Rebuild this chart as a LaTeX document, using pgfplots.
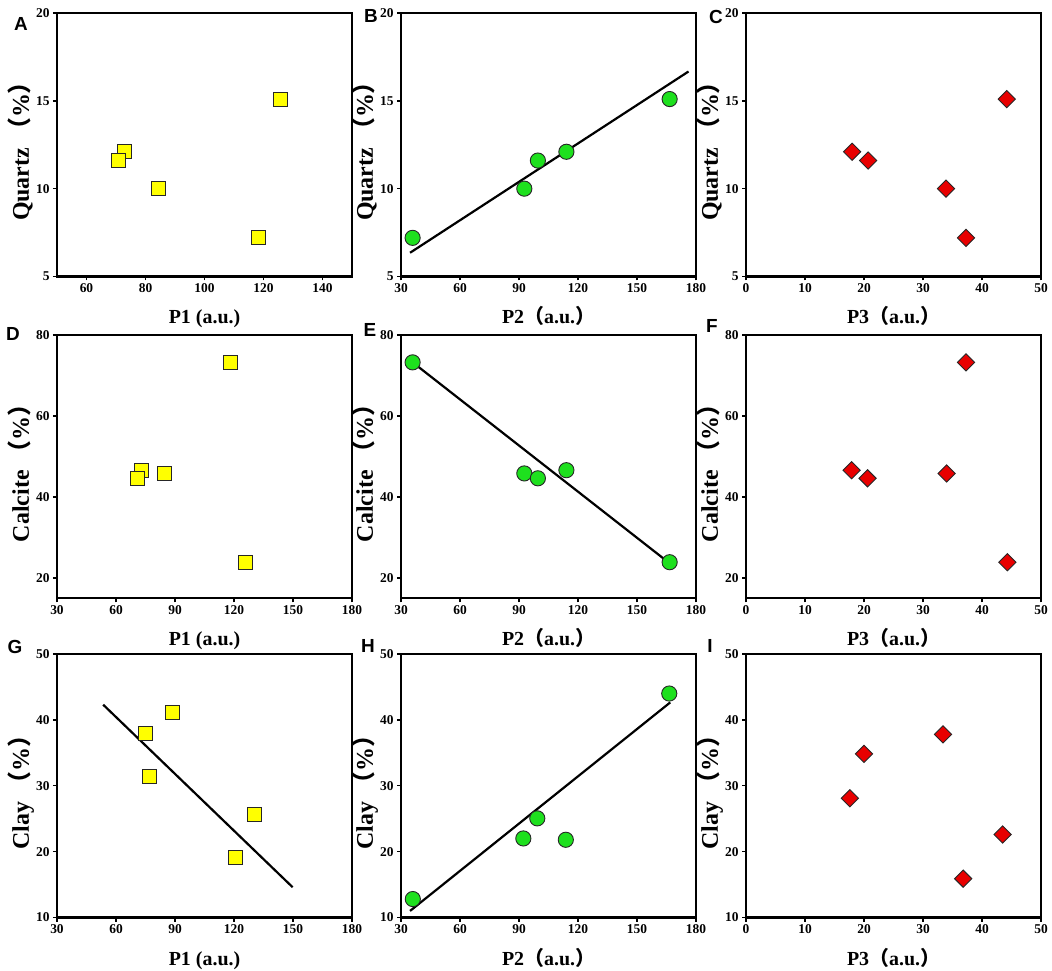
\documentclass[border=0pt]{standalone}
\usepackage{pgfplots}
\pgfplotsset{compat=1.18}
\usepackage{fontspec}
\setmainfont{Liberation Serif}
\newfontfamily\cjk{Noto Sans CJK SC}
\newfontfamily\arialf{Liberation Sans}
\definecolor{myyellow}{HTML}{FFFF00}
\definecolor{mygreen}{HTML}{1EE01E}
\definecolor{myred}{HTML}{E80000}
\pgfplotsset{
  myax/.style={scale only axis, width=295bp, height=263.5bp, anchor=south west,
    axis line style={line width=2.1bp}, every tick/.style={black, line width=1.4bp},
    tick align=outside, major tick length=4bp, xtick pos=bottom, ytick pos=left,
    minor tick num=0,
    extra description/.code={\draw[line width=2.1bp, black] (rel axis cs:0,0) rectangle (rel axis cs:1,1);},
    /pgf/number format/assume math mode=true,
    xticklabel={\pgfmathprintnumber[assume math mode=true]{\tick}},
    yticklabel={\pgfmathprintnumber[assume math mode=true]{\tick}},
    tick label style={font=\bfseries\fontsize{13.5}{13.5}\selectfont},
    xlabel style={at={(axis description cs:0.5,0)}, anchor=base, yshift=-47.5bp,
      font=\bfseries\fontsize{20}{20}\selectfont},
    ylabel style={at={(axis description cs:-0.095,0.497)}, anchor=base,
      font=\bfseries\fontsize{24}{24}\selectfont},
  },
  sq/.style={only marks, mark=square*, mark size=7bp,
    mark options={fill=myyellow, draw=black!85, line width=0.9bp}},
  ci/.style={only marks, mark=*, mark size=7.6bp,
    mark options={fill=mygreen, draw=black!85, line width=0.9bp}},
  di/.style={only marks, mark=square*, mark size=6.1bp,
    mark options={rotate=45, fill=myred, draw=black!85, line width=0.9bp}},
  fit/.style={black, line width=2.2bp, no marks},
}
\newcommand{\lab}[1]{\node[font=\arialf\bfseries\fontsize{19}{19}\selectfont] at #1;}
\begin{document}
\begin{tikzpicture}
\useasboundingbox (0,0) rectangle (1052bp,971bp);
% ---------- Row 1: Quartz
\begin{axis}[myax, at={(57bp,694.5bp)}, xmin=50, xmax=150, ymin=5, ymax=20,
  xtick={60,80,100,120,140}, ytick={5,10,15,20},
  xlabel={P1 (a.u.)}, ylabel={Quartz {\cjk （}\%{\cjk ）}}]
\addplot[sq] coordinates {(125.8,15.1) (72.9,12.1) (70.7,11.6) (84.4,10.0) (118.4,7.2)};
\end{axis}
\begin{axis}[myax, at={(401bp,694.5bp)}, xmin=30, xmax=180, ymin=5, ymax=20,
  xtick={30,60,...,180}, ytick={5,10,15,20},
  xlabel={P2{\cjk （}a.u.{\cjk ）}}, ylabel={Quartz {\cjk （}\%{\cjk ）}}]
\addplot[ci] coordinates {(35.9,7.2) (92.7,10.0) (99.6,11.6) (114.1,12.1) (166.6,15.1)};
\addplot[fit] coordinates {(34.6,6.35) (176.2,16.67)};
\end{axis}
\begin{axis}[myax, at={(746bp,694.5bp)}, xmin=0, xmax=50, ymin=5, ymax=20,
  xtick={0,10,...,50}, ytick={5,10,15,20},
  xlabel={P3{\cjk （}a.u.{\cjk ）}}, ylabel={Quartz {\cjk （}\%{\cjk ）}}]
\addplot[di] coordinates {(18.0,12.1) (20.7,11.6) (33.9,10.0) (37.3,7.2) (44.2,15.1)};
\end{axis}
% ---------- Row 2: Calcite
\begin{axis}[myax, at={(57bp,372.7bp)}, xmin=30, xmax=180, ymin=15, ymax=80,
  xtick={30,60,...,180}, ytick={20,40,60,80},
  xlabel={P1 (a.u.)}, ylabel={Calcite {\cjk （}\%{\cjk ）}}]
\addplot[sq] coordinates {(118.4,73.2) (72.9,46.6) (70.7,44.6) (84.4,45.8) (125.8,23.9)};
\end{axis}
\begin{axis}[myax, at={(401bp,372.7bp)}, xmin=30, xmax=180, ymin=15, ymax=80,
  xtick={30,60,...,180}, ytick={20,40,60,80},
  xlabel={P2{\cjk （}a.u.{\cjk ）}}, ylabel={Calcite {\cjk （}\%{\cjk ）}}]
\addplot[ci] coordinates {(35.9,73.2) (92.7,45.8) (99.6,44.6) (114.1,46.6) (166.6,23.9)};
\addplot[fit] coordinates {(35.4,73.4) (167.2,23.4)};
\end{axis}
\begin{axis}[myax, at={(746bp,372.7bp)}, xmin=0, xmax=50, ymin=15, ymax=80,
  xtick={0,10,...,50}, ytick={20,40,60,80},
  xlabel={P3{\cjk （}a.u.{\cjk ）}}, ylabel={Calcite {\cjk （}\%{\cjk ）}}]
\addplot[di] coordinates {(17.9,46.6) (20.6,44.6) (34.0,45.8) (37.3,73.2) (44.3,23.9)};
\end{axis}
% ---------- Row 3: Clay
\begin{axis}[myax, at={(57bp,53.5bp)}, xmin=30, xmax=180, ymin=10, ymax=50,
  xtick={30,60,...,180}, ytick={10,20,...,50},
  xlabel={P1 (a.u.)}, ylabel={Clay {\cjk （}\%{\cjk ）}}]
\addplot[sq] coordinates {(74.8,38.0) (88.6,41.1) (77.2,31.35) (130.6,25.7) (120.9,19.1)};
\addplot[fit] coordinates {(53.5,42.3) (149.8,14.6)};
\end{axis}
\begin{axis}[myax, at={(401bp,53.5bp)}, xmin=30, xmax=180, ymin=10, ymax=50,
  xtick={30,60,...,180}, ytick={10,20,...,50},
  xlabel={P2{\cjk （}a.u.{\cjk ）}}, ylabel={Clay {\cjk （}\%{\cjk ）}}]
\addplot[ci] coordinates {(36.0,12.8) (92.2,22.0) (99.3,25.05) (113.8,21.8) (166.4,44.0)};
\addplot[fit] coordinates {(34.6,11.0) (166.9,42.65)};
\end{axis}
\begin{axis}[myax, at={(746bp,53.5bp)}, xmin=0, xmax=50, ymin=10, ymax=50,
  xtick={0,10,...,50}, ytick={10,20,...,50},
  xlabel={P3{\cjk （}a.u.{\cjk ）}}, ylabel={Clay {\cjk （}\%{\cjk ）}}]
\addplot[di] coordinates {(17.6,28.1) (20.0,34.85) (33.4,37.8) (43.5,22.6) (36.8,15.9)};
\end{axis}
% ---------- panel letters
\lab{(21bp,947bp) {A}}
\lab{(371bp,954.5bp) {B}}
\lab{(716bp,954.5bp) {C}}
\lab{(13bp,637.5bp) {D}}
\lab{(370bp,641bp) {E}}
\lab{(712bp,645bp) {F}}
\lab{(15bp,324.5bp) {G}}
\lab{(368bp,325bp) {H}}
\lab{(710bp,325bp) {I}}
\end{tikzpicture}
\end{document}
